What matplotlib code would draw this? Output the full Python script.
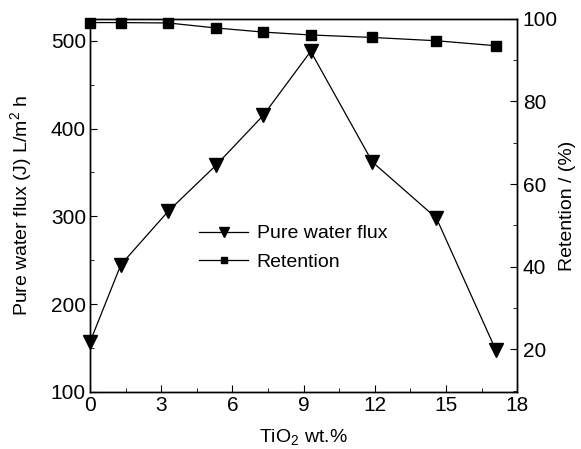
import matplotlib
matplotlib.use('Agg')
import matplotlib.pyplot as plt
from matplotlib.ticker import MultipleLocator

plt.rcParams['font.family'] = ['Liberation Sans', 'DejaVu Sans']
plt.rcParams['mathtext.fontset'] = 'custom'
plt.rcParams['mathtext.rm'] = 'Liberation Sans'

# data
tio2 = [0, 1.3, 3.3, 5.3, 7.3, 9.3, 11.9, 14.6, 17.1]
flux = [157, 245, 306, 358, 415, 488, 362, 298, 148]
retention = [99.1, 99.1, 99.0, 97.8, 96.8, 96.1, 95.5, 94.7, 93.5]

fig = plt.figure(figsize=(5.81, 4.49), dpi=100)
ax = fig.add_axes([0.155, 0.127, 0.735, 0.831])
ax2 = ax.twinx()

l1, = ax.plot(tio2, flux, color='black', lw=0.9, marker='v', ms=10,
              clip_on=False, zorder=3, label='Pure water flux')
l2, = ax2.plot(tio2, retention, color='black', lw=0.9, marker='s', ms=6.5,
               clip_on=False, zorder=3, label='Retention')

ax.set_xlim(0, 18)
ax.set_ylim(100, 525)
ax2.set_ylim(9.7, 100)

ax.xaxis.set_major_locator(MultipleLocator(3))
ax.xaxis.set_minor_locator(MultipleLocator(1.5))
ax.yaxis.set_major_locator(MultipleLocator(100))
ax.yaxis.set_minor_locator(MultipleLocator(50))
ax2.yaxis.set_major_locator(MultipleLocator(20))
ax2.yaxis.set_minor_locator(MultipleLocator(10))

ax.tick_params(which='both', direction='in', labelsize=15, top=False, right=False)
ax.tick_params(which='major', length=5, pad=3)
ax.tick_params(which='minor', length=3)
ax2.tick_params(which='both', direction='in', labelsize=15)
ax2.tick_params(which='major', length=5, pad=4)
ax2.tick_params(which='minor', length=3)

for a in (ax, ax2):
    for s in a.spines.values():
        s.set_linewidth(1.0)

ax.set_xlabel('TiO$_2$ wt.%', fontsize=14, labelpad=9)
ax.set_ylabel('Pure water flux (J) L/m$^2$ h', fontsize=14, labelpad=11)
ax2.set_ylabel('Retention / (%)', fontsize=14, labelpad=1)

ax.legend([l1, l2], ['Pure water flux', 'Retention'], frameon=False,
          fontsize=14, markerscale=0.65, handlelength=2.5, handletextpad=0.45,
          loc='upper left', bbox_to_anchor=(0.215, 0.495), labelspacing=0.55)

fig.savefig('out.png', dpi=100)
